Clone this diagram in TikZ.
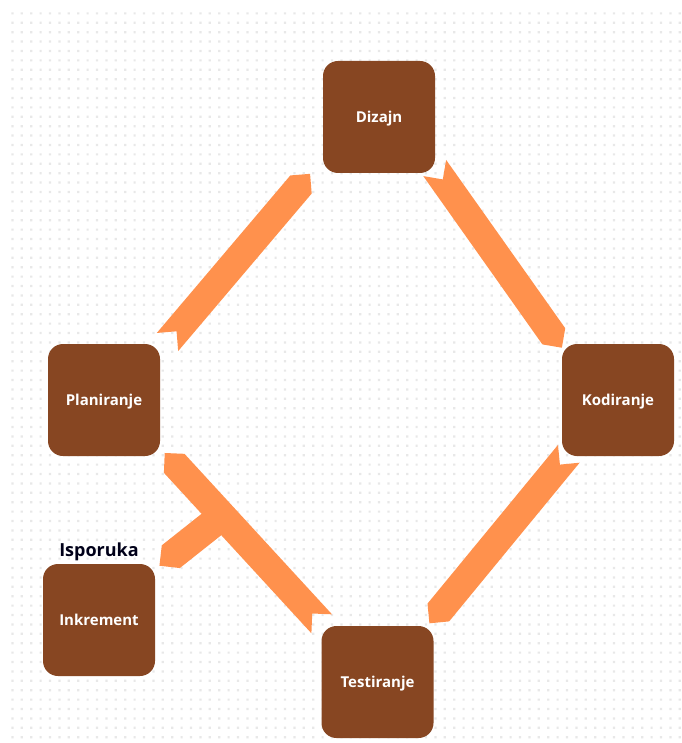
\documentclass[tikz,border=0pt]{standalone}
\usepackage{fontspec}
\setmainfont{Open Sans}
\usetikzlibrary{calc}
\definecolor{boxbrown}{HTML}{874622}
\definecolor{arroworange}{HTML}{FF914D}
\definecolor{dotgray}{HTML}{E8E8E8}
\newcommand{\chev}[2]{%
  \fill[arrowfill] ($(#1)!14pt!90:(#2)$) -- ($(#1)!14pt!(#2)$) -- ($(#1)!14pt!-90:(#2)$)
    -- ($(#2)!14pt!90:(#1)$) -- ($(#2)!14pt!180:(#1)$) -- ($(#2)!14pt!-90:(#1)$) -- cycle;}
\newcommand{\branchchev}[2]{%
  \fill[arrowfill] ($(#1)!14.5pt!90:(#2)$) -- ($(#1)!14.5pt!-90:(#2)$)
    -- ($(#2)!14.5pt!90:(#1)$) -- ($(#2)!14.5pt!180:(#1)$) -- ($(#2)!14.5pt!-90:(#1)$) -- cycle;}
\tikzset{
  stage/.style={rectangle, rounded corners=15pt, fill=boxbrown, minimum width=112pt,
    minimum height=112pt, inner sep=0pt, text=white, text height=10.5pt, text depth=0pt,
    font=\fontsize{15}{17}\selectfont\bfseries},
  arrowfill/.style={fill=arroworange},
  caption/.style={text=black!90!blue, font=\fontsize{18}{20}\selectfont\bfseries,
    inner sep=0pt, text height=12.8pt, text depth=0pt}
}
\begin{document}
\begin{tikzpicture}[x=1pt,y=-1pt]
\useasboundingbox (0,0) rectangle (681,743);
\fill[white] (0,0) rectangle (681,743);
% dotted grid background
\fill[dotgray] \foreach \i in {0,...,71} { \foreach \j in {0,...,77} {
  ({11.3+9.4*\i},{12.3+9.4*\j}) rectangle ++(2.2,2.2) } };

% stages
\node[stage] (diz)  at (379,117)   {Dizajn};
\node[stage] (plan) at (104,400)   {Planiranje};
\node[stage] (kod)  at (618,400)   {Kodiranje};
\node[stage] (test) at (377.5,682) {Testiranje};
\node[stage] (ink)  at (99,620)    {Inkrement};
\node[caption] (isp) at (99,550) {Isporuka};

% arrow end coordinates
\coordinate (a1s) at (167.5,342);  \coordinate (a1e) at (301,184.5);
\coordinate (a2s) at (434.7,168);  \coordinate (a2e) at (553.8,336.3);
\coordinate (a3s) at (568.8,453.8); \coordinate (a3e) at (438.3,612.5);
\coordinate (a4s) at (321.7,623.8); \coordinate (a4e) at (174.2,463.3);
\coordinate (bs) at (222.4,515.8);  \coordinate (be) at (170.8,556.7);

\chev{a1s}{a1e}
\chev{a2s}{a2e}
\chev{a3s}{a3e}
\chev{a4s}{a4e}
\branchchev{bs}{be}
\end{tikzpicture}
\end{document}
